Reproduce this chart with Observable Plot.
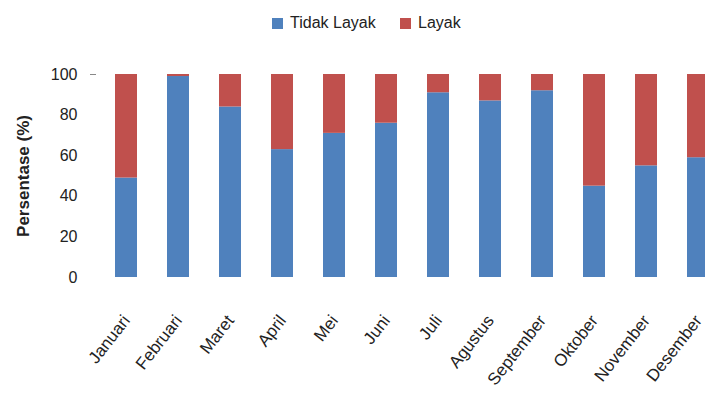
<!DOCTYPE html>
<html>
<head>
<meta charset="utf-8">
<script src="https://cdn.jsdelivr.net/npm/d3@7"></script>
<script src="https://cdn.jsdelivr.net/npm/@observablehq/plot@0.6"></script>
<style>
  html, body { margin: 0; padding: 0; background: #fff; overflow: hidden; }
  #wrap { width: 705px; height: 399px; position: relative; font-family: "Liberation Sans", Arial, sans-serif; }
  #legend { height: 44px; position: relative; }
  .item { position: absolute; top: 14px; display: flex; align-items: center; font-size: 16px; color: #222; }
  .sw { width: 11px; height: 11px; margin-right: 7px; }
  svg { overflow: hidden; }
</style>
</head>
<body>
<div id="wrap">
  <div id="legend"></div>
  <div id="chart"></div>
</div>
<script>
// Months of the year
const bulan = ["Januari", "Februari", "Maret", "April", "Mei", "Juni", "Juli",
  "Agustus", "September", "Oktober", "November", "Desember"];
// Share of samples per month (%)
const tidakLayak = [49, 99, 84, 63, 71, 76, 91, 87, 92, 45, 55, 59];
const layak = [51, 1, 16, 37, 29, 24, 9, 13, 8, 55, 45, 41];
const kategori = ["Tidak Layak", "Layak"];
const warna = ["#4F81BD", "#C0504D"];
const yTicks = [0, 20, 40, 60, 80, 100];

const rows = [];
bulan.forEach((b, i) => {
  rows.push({bulan: b, kategori: kategori[0], nilai: tidakLayak[i]});
  rows.push({bulan: b, kategori: kategori[1], nilai: layak[i]});
});

// Legend above the chart
const legend = document.getElementById("legend");
const legendX = [272, 400];
kategori.forEach((k, i) => {
  const it = document.createElement("div");
  it.className = "item";
  it.style.left = legendX[i] + "px";
  const sw = document.createElement("span");
  sw.className = "sw";
  sw.style.background = warna[i];
  it.appendChild(sw);
  it.appendChild(document.createTextNode(k));
  legend.appendChild(it);
});

const chart = Plot.plot({
  width: 705,
  height: 355,
  marginLeft: 96,
  marginRight: 0,
  marginTop: 30,
  marginBottom: 122,
  style: {fontFamily: "Liberation Sans, Arial, sans-serif", fontSize: "16px", color: "#222", background: "#fff"},
  x: {domain: bulan, range: [96, 727], paddingInner: 0.58, paddingOuter: 0.29, align: 0.5},
  y: {domain: [0, 100], range: [233, 30]},
  color: {domain: kategori, range: warna},
  marks: [
    Plot.barY(rows, Plot.stackY({x: "bulan", y: "nilai", fill: "kategori", order: null})),
    Plot.axisY({ticks: yTicks, tickSize: 0, tickPadding: 19, fontSize: 16,
      label: "Persentase (%)", labelAnchor: "center", labelArrow: "none", labelOffset: 80}),
    Plot.axisY({ticks: [100], tickSize: 6, text: null, label: null, stroke: "#888"}),
    Plot.axisX({tickSize: 0, tickPadding: 40, tickRotate: -52, fontSize: 17, label: null})
  ]
});
document.getElementById("chart").appendChild(chart);
// Bold, slightly larger axis title
chart.querySelectorAll("g[aria-label='y-axis label'] text").forEach(t => {
  t.setAttribute("font-weight", "bold");
  t.setAttribute("font-size", "17");
});
</script>
</body>
</html>
